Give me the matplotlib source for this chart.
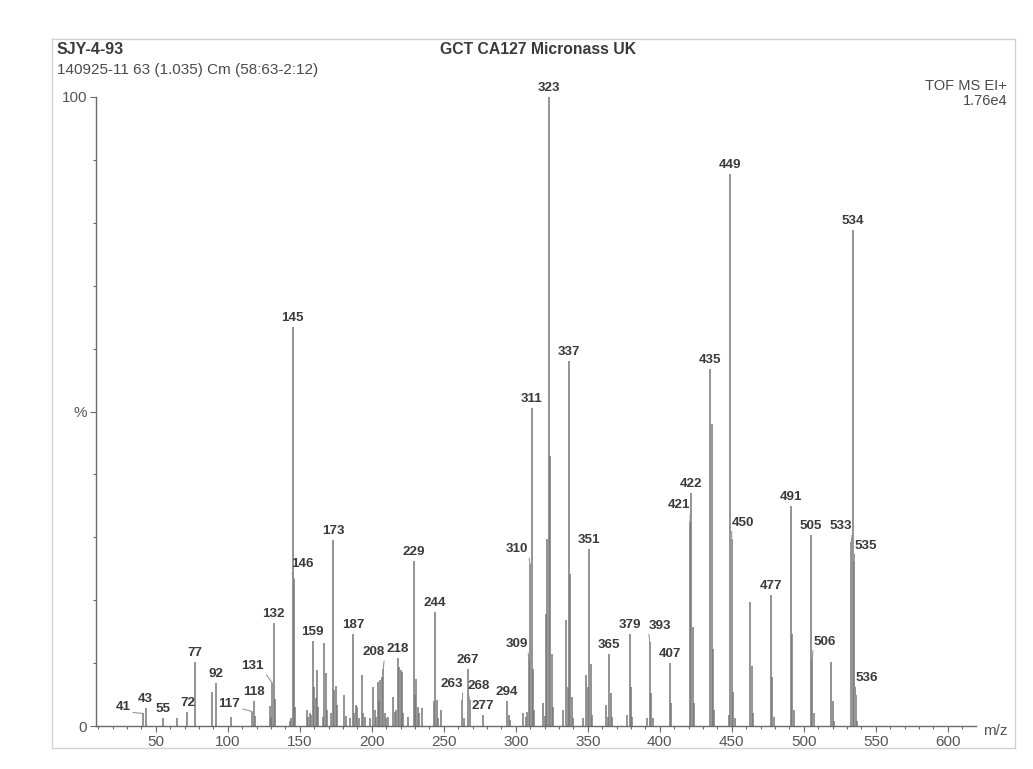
import matplotlib
matplotlib.use("Agg")
import matplotlib.pyplot as plt
from matplotlib.ticker import MultipleLocator, FixedLocator, FixedFormatter
from matplotlib.lines import Line2D

plt.rcParams['font.family'] = ['Liberation Sans', 'DejaVu Sans']

# ---- spectrum data (m/z, relative intensity %) ----
mz = [41, 43, 55, 65, 72, 77, 89, 92, 102, 117, 118, 119, 129, 130, 131, 132, 133,
      143, 144, 145, 146, 147, 155, 156, 157, 158, 159, 160, 161, 162, 163, 166, 167,
      168, 169, 172, 173, 174, 175, 176, 181, 182, 185, 187, 188, 189, 190, 191, 193,
      194, 195, 199, 201, 202, 203, 204, 205, 206, 207, 208, 209, 210, 211, 215, 216,
      217, 218, 219, 220, 221, 222, 225, 229, 230, 231, 232, 233, 235, 243, 244, 245,
      246, 248, 263, 264, 267, 268, 277, 294, 295, 296, 305, 307, 308, 309, 310, 311,
      312, 313, 319, 320, 321, 322, 323, 324, 325, 326, 333, 335, 336, 337, 338, 339,
      340, 347, 349, 350, 351, 352, 353, 363, 364, 365, 366, 367, 377, 379, 380, 381,
      391, 393, 394, 395, 407, 408, 421, 422, 423, 424, 435, 436, 437, 438, 448, 449,
      450, 451, 452, 463, 464, 465, 477, 478, 479, 491, 492, 493, 505, 506, 507, 519,
      520, 521, 533, 534, 535, 536, 537]
intensity = [2.0, 2.8, 1.3, 1.3, 2.3, 10.2, 5.4, 6.8, 1.4, 2.3, 3.9, 1.6, 3.2, 1.5, 6.8, 16.3, 4.3,
             0.8, 1.3, 63.4, 23.4, 3.0, 2.5, 1.5, 2.0, 1.8, 13.5, 6.2, 4.4, 8.9, 3.0, 1.5, 13.2,
             8.5, 2.5, 2.0, 29.5, 5.8, 6.4, 3.4, 4.9, 1.6, 1.2, 14.7, 2.0, 3.3, 3.0, 1.2, 8.1,
             2.0, 1.5, 1.2, 6.2, 2.5, 1.5, 7.0, 4.0, 7.3, 7.8, 9.0, 2.0, 1.3, 1.5, 4.6, 2.2,
             2.6, 10.8, 9.4, 8.9, 8.6, 2.0, 1.5, 26.2, 4.9, 7.5, 3.0, 2.0, 2.9, 3.9, 18.1, 4.1,
             1.2, 2.5, 4.1, 1.2, 9.1, 4.2, 1.7, 3.9, 1.7, 1.0, 2.1, 1.5, 2.2, 10.6, 25.7, 50.5,
             9.0, 2.5, 3.6, 1.6, 17.8, 29.7, 100.0, 43.0, 11.5, 3.0, 2.5, 16.8, 6.2, 58.0, 24.2, 4.6,
             1.2, 1.3, 8.1, 6.2, 28.1, 9.9, 1.7, 3.3, 1.5, 11.5, 5.2, 1.5, 1.7, 14.7, 6.2, 1.5,
             1.2, 13.4, 5.2, 1.2, 10.0, 3.6, 32.4, 37.1, 15.7, 3.7, 56.7, 48.0, 12.3, 2.5, 1.7, 87.8,
             29.8, 5.4, 1.2, 19.7, 9.5, 2.0, 20.9, 7.8, 1.5, 35.0, 14.7, 2.5, 30.4, 10.7, 2.1, 10.2,
             3.9, 0.8, 29.2, 78.9, 26.3, 4.9, 0.8]

# peaks carrying an m/z annotation
labelled = [41, 43, 55, 72, 77, 92, 117, 118, 131, 132, 145, 146, 159, 173, 187, 208,
            218, 229, 244, 263, 267, 268, 277, 294, 309, 310, 311, 323, 337, 351, 365,
            379, 393, 407, 421, 422, 435, 449, 450, 477, 491, 505, 506, 533, 534, 535, 536]

# labels set aside from their peak with a leader line: (dx, dy) in pixels
label_offsets = {41: (-20, 6), 117: (-23, 8), 131: (-20, 17), 208: (-10, 17),
                 263: (-11, 16), 309: (-12, 15), 310: (-13, 15), 421: (-11, 17),
                 533: (-10, 16), 146: (8, 15), 268: (9, 14), 393: (10, 16),
                 450: (11, 16), 506: (12, 17), 535: (12, 15), 536: (11, 17)}

y_tick_values = [0, 50, 100]
y_tick_labels = ['0', '%', '100']
x_tick_values = [50, 100, 150, 200, 250, 300, 350, 400, 450, 500, 550, 600]

title_left = "SJY-4-93"
title_center = "GCT CA127 Micronass UK"
subtitle = "140925-11 63 (1.035) Cm (58:63-2:12)"
mode_text = "TOF MS EI+"
scale_text = "1.76e4"

W, H = 1033, 769
fig = plt.figure(figsize=(W / 100, H / 100), dpi=100)
fig.patch.set_facecolor('white')

# page frame
frame_col = '#d2d2d2'
fx0, fx1, fy0, fy1 = 52, 1015, 39, 748
for xs, ys in [([fx0, fx1], [fy0, fy0]), ([fx0, fx1], [fy1, fy1]),
               ([fx1, fx1], [fy0, fy1]), ([fx0, fx0], [fy0, fy1])]:
    fig.add_artist(Line2D([x / W for x in xs], [1 - y / H for y in ys],
                          color=frame_col, lw=1.0))

ax_l, ax_r, ax_t, ax_b = 96, 976, 97, 726
ax = fig.add_axes([ax_l / W, 1 - ax_b / H, (ax_r - ax_l) / W, (ax_b - ax_t) / H])
ax.set_facecolor('none')
ax.set_xlim(8.5, 619.6)
ax.set_ylim(0, 100)

peak_col = '#777777'
ax.vlines(mz, 0, intensity, colors=peak_col, lw=1.1)

label_col = '#3a3a3a'
label_size = 9.6
lookup = dict(zip(mz, intensity))
for m in labelled:
    v = lookup[m]
    if m in label_offsets:
        dx, dy = label_offsets[m]
        ax.annotate(str(m), (m, v), xytext=(dx, dy), textcoords='offset pixels',
                    ha='center', va='center', fontsize=label_size, fontweight='bold',
                    color=label_col, annotation_clip=False,
                    arrowprops=dict(arrowstyle='-', color='#8a8a8a', lw=0.7,
                                    shrinkA=0, shrinkB=0,
                                    relpos=(1, 0.1) if dx < 0 else (0, 0.1)))
    else:
        ax.annotate(str(m), (m, v), xytext=(0, 3), textcoords='offset pixels',
                    ha='center', va='bottom', fontsize=label_size, fontweight='bold',
                    color=label_col, annotation_clip=False)

axis_col = '#6a6a6a'
for s in ['top', 'right']:
    ax.spines[s].set_visible(False)
for s in ['left', 'bottom']:
    ax.spines[s].set_color(axis_col)
    ax.spines[s].set_linewidth(1.0)

ax.xaxis.set_major_locator(FixedLocator(x_tick_values))
ax.xaxis.set_minor_locator(MultipleLocator(10))
ax.yaxis.set_major_locator(FixedLocator(y_tick_values))
ax.yaxis.set_major_formatter(FixedFormatter(y_tick_labels))
ax.yaxis.set_minor_locator(MultipleLocator(10))
ax.tick_params(axis='both', which='both', direction='out', colors=axis_col,
               labelcolor='#555555', labelsize=11)
ax.tick_params(axis='both', which='major', length=4.5, width=0.8, pad=2)
ax.tick_params(axis='both', which='minor', length=2.5, width=0.8)

ax.text(1.008, -0.008, 'm/z', transform=ax.transAxes, ha='left', va='center',
        fontsize=11, color='#555555')

# header texts
fig.text(57 / W, 1 - 50 / H, title_left, ha='left', va='center', fontsize=11.5,
         fontweight='bold', color='#3a3a3a')
fig.text(57 / W, 1 - 70 / H, subtitle, ha='left', va='center', fontsize=11,
         color='#4a4a4a')
fig.text(538 / W, 1 - 50 / H, title_center, ha='center', va='center', fontsize=11.3,
         fontweight='bold', color='#3a3a3a')
fig.text(1007 / W, 1 - 86 / H, mode_text, ha='right', va='center', fontsize=10.5,
         color='#4a4a4a')
fig.text(1007 / W, 1 - 101 / H, scale_text, ha='right', va='center', fontsize=10.5,
         color='#4a4a4a')

fig.savefig('out.png', dpi=100, facecolor='white')
